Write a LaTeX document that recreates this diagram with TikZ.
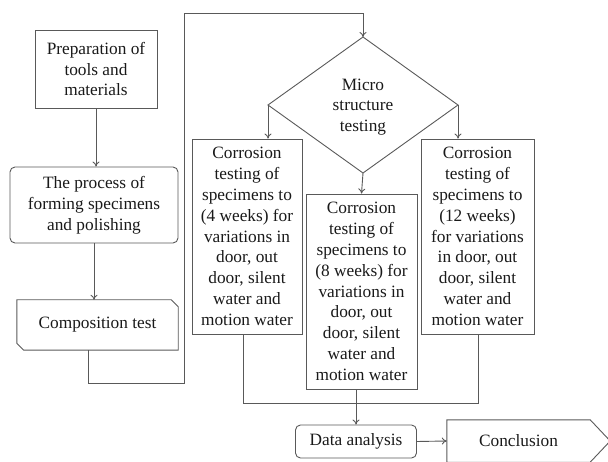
\documentclass[tikz,border=0pt]{standalone}
\usepackage{fontspec}
\setmainfont{Liberation Serif}
\usetikzlibrary{arrows.meta,calc}
\begin{document}
\begin{tikzpicture}[x=1pt,y=-1pt,
  line/.style={draw=black!65, line width=0.9pt},
  arr/.style={line, -{To[length=5pt,width=7pt]}},
  txt/.style={font=\fontsize{17.3}{20.8}\selectfont, align=center, inner sep=0pt, text=black!90},
  boxr/.style={txt, line, rectangle},
  boxrr/.style={txt, line, rectangle, rounded corners=5pt}]
\useasboundingbox (0,0) rectangle (608,462);
% left column
\node[boxr, minimum width=122pt, minimum height=78pt] (prep) at (96,69) {Preparation of\\tools and\\materials};
\node[boxrr, minimum width=168pt, minimum height=76pt] (proc) at (94,205) {The process of\\forming specimens\\and polishing};
\node[txt, minimum width=161pt, minimum height=50pt] (comp) at (97.5,325) {Composition test};
\draw[line] (comp.north west) -- ([xshift=-7pt]comp.north east) -- ([yshift=-7pt]comp.north east)
  -- (comp.south east) -- ([xshift=7pt]comp.south west) -- ([yshift=7pt]comp.south west) -- cycle;
% diamond
\coordinate (mT) at (363,37);
\coordinate (mL) at (268,105);
\coordinate (mB) at (363,173);
\coordinate (mR) at (458,105);
\draw[line] (mT) -- (mR) -- (mB) -- (mL) -- cycle;
\node[txt] (micro) at (363,107) {Micro\\structure\\testing};
% corrosion boxes
\node[boxr, minimum width=110pt, minimum height=195pt] (c4) at (247,236.5)
  {Corrosion\\testing of\\specimens to\\(4 weeks) for\\variations in\\door, out\\door, silent\\water and\\motion water};
\node[boxr, minimum width=111pt, minimum height=195pt] (c8) at (361.5,291.5)
  {Corrosion\\testing of\\specimens to\\(8 weeks) for\\variations in\\door, out\\door, silent\\water and\\motion water};
\node[boxr, minimum width=113pt, minimum height=195pt] (c12) at (477.5,236.5)
  {Corrosion\\testing of\\specimens to\\(12 weeks)\\for variations\\in door, out\\door, silent\\water and\\motion water};
% bottom
\node[boxrr, minimum width=121pt, minimum height=33pt] (data) at (356,441.5) {Data analysis};
\node[txt, minimum width=143pt, minimum height=42pt] (concl) at (518.5,441) {Conclusion};
\draw[line] (concl.north west) -- (concl.north east) -- ([xshift=20pt]concl.east) -- (concl.south east) -- (concl.south west) -- cycle;
% connectors
\draw[arr] (prep.south) -- (prep.south |- proc.north);
\draw[arr] (proc.south) -- (proc.south |- comp.north);
\coordinate (b1) at (88,383);
\coordinate (b2) at (184,383);
\coordinate (b3) at (184,13);
\coordinate (b4) at (363,13);
\draw[arr] (b1 |- comp.south) -- (b1) -- (b2) -- (b3) -- (b4) -- (mT);
\draw[arr] (mL) -- (mL |- c4.north);
\draw[arr] (mB) -- (c8.north);
\draw[arr] (mR) -- (mR |- c12.north);
\coordinate (j1) at (243,403);
\coordinate (j2) at (478,403);
\draw[line] (j1 |- c4.south) -- (j1) -- (j2) -- (j2 |- c12.south);
\draw[arr] (c8.south -| data.north) -- (data.north);
\draw[arr] (data.east) -- (concl.west);
\end{tikzpicture}
\end{document}
